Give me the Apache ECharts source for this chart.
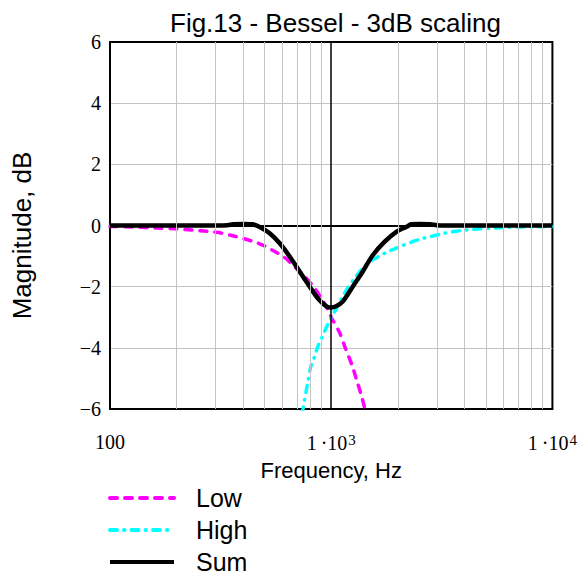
<!DOCTYPE html>
<html>
<head>
<meta charset="utf-8">
<style>
html,body{margin:0;padding:0;background:#fff;}
#chart{width:580px;height:578px;}
</style>
<script src="https://cdn.jsdelivr.net/npm/echarts@6/dist/echarts.min.js"></script>
</head>
<body>
<div id="chart"></div>
<script>
// ---- data ----
var titleText = 'Fig.13 - Bessel - 3dB scaling';
var xTitle = 'Frequency, Hz';
var yTitle = 'Magnitude, dB';
var seriesNames = ['Low', 'High', 'Sum'];

var lowFreq = [100,130,160,196,234,274,314,366,438,491,546,617,684,759,826,888,950,1000,1091,1151,1239,1303,1374,1420,1440];
var lowDb   = [-0.03,-0.05,-0.08,-0.11,-0.15,-0.19,-0.24,-0.35,-0.51,-0.64,-0.82,-1.05,-1.35,-1.67,-1.97,-2.3,-2.65,-3.0,-3.5,-3.95,-4.55,-5.05,-5.6,-6.0,-6.15];

var highFreq = [735,745,780,810,840,870,916,955,1000,1059,1151,1276,1462,1656,1800,2041,2513,2788,3162,3496,3802,4305,4677,5200,5890,7000,10000];
var highDb   = [-6.15,-6.0,-5.2,-4.6,-4.3,-3.95,-3.6,-3.3,-3.0,-2.7,-2.2,-1.72,-1.23,-1.0,-0.86,-0.69,-0.45,-0.37,-0.27,-0.21,-0.17,-0.13,-0.11,-0.09,-0.07,-0.05,-0.03];

var sumFreq = [100,200,300,340,360,400,440,475,527,585,650,721,800,869,955,1000,1047,1127,1250,1387,1538,1745,1977,2193,2300,2500,2800,3000,3200,5000,10000];
var sumDb   = [0,0,0,0.01,0.04,0.05,0.04,-0.05,-0.25,-0.58,-1.02,-1.51,-2.0,-2.38,-2.65,-2.68,-2.65,-2.49,-2.0,-1.51,-0.98,-0.53,-0.2,-0.04,0.04,0.05,0.04,0.01,0,0,0];

var minorGridFreq = [200,300,400,500,600,700,800,900,2000,3000,4000,5000,6000,7000,8000,9000];
var markerFreq = [1000];
var xMin = 100, xMax = 10000;
var yMin = -6, yMax = 6, yStep = 2;

function pairs(xs, ys){ return xs.map(function(x,i){ return [x, ys[i]]; }); }

var chart = echarts.init(document.getElementById('chart'), null, {renderer:'svg', width:580, height:578});

var minorLines = minorGridFreq.map(function(f){ return {xAxis: f, lineStyle:{color:'#c4c4c4', width:1, type:'solid'}}; });
var markLines = markerFreq.map(function(f){ return {xAxis: f, lineStyle:{color:'#000', width:1.5, type:'solid'}}; });

var option = {
  animation: false,
  backgroundColor: '#fff',
  title: {
    text: titleText,
    left: 165, top: 5,
    textStyle: {fontFamily:'Liberation Sans, Arial, sans-serif', fontSize:26, fontWeight:'normal', color:'#000'}
  },
  grid: {left:110, right:27, top:42, bottom:169, show:true, borderColor:'#000', borderWidth:2, backgroundColor:'transparent', containLabel:false},
  legend: {
    orient:'vertical', left:108, top:484, padding:0, height:94,
    itemWidth:64, itemHeight:14, itemGap:4,
    data: seriesNames,
    itemStyle:{color:'transparent', borderColor:'transparent', borderWidth:0},
    lineStyle:{width:4},
    textStyle:{fontFamily:'Liberation Sans, Arial, sans-serif', fontSize:25, color:'#000', lineHeight:22, padding:[6,0,0,17]}
  },
  xAxis: {
    type:'log', logBase:10, min:xMin, max:xMax,
    name: xTitle, nameLocation:'middle', nameGap:50, nameMoveOverlap:false,
    nameTextStyle:{fontFamily:'Liberation Sans, Arial, sans-serif', fontSize:22, color:'#000'},
    axisLine:{show:true, lineStyle:{color:'#000', width:2}},
    axisTick:{show:false},
    splitLine:{show:false},
    axisLabel:{
      margin:23, color:'#000', fontFamily:'Liberation Serif, Times New Roman, serif', fontSize:20,
      formatter:function(v){
        if (Math.abs(v-100) < 1e-6) return '100';
        var e = Math.round(Math.log(v)/Math.LN10);
        return '{b|1\u2009·10}{sup|' + e + '}';
      },
      rich:{
        b:{fontFamily:'Liberation Serif, Times New Roman, serif', fontSize:20, color:'#000', verticalAlign:'bottom'},
        sup:{fontFamily:'Liberation Serif, Times New Roman, serif', fontSize:15, color:'#000', verticalAlign:'top', padding:[0,0,6,1]}
      }
    }
  },
  yAxis: {
    type:'value', min:yMin, max:yMax, interval:yStep,
    name: yTitle, nameLocation:'middle', nameGap:75, nameMoveOverlap:false,
    nameTextStyle:{fontFamily:'Liberation Sans, Arial, sans-serif', fontSize:26, color:'#000', padding:[0,20,0,0]},
    axisLine:{show:true, lineStyle:{color:'#000', width:2}},
    axisTick:{show:false},
    splitLine:{show:true, showMinLine:false, showMaxLine:false, lineStyle:{color:'#c4c4c4', width:1}},
    axisLabel:{
      margin:9, color:'#000', fontFamily:'Liberation Serif, Times New Roman, serif', fontSize:20, padding:[8,0,0,0],
      formatter:function(v){ return v < 0 ? '\u2212' + Math.abs(v) : String(v); }
    }
  },
  series: [
    {
      name:'Low', type:'line', data:pairs(lowFreq, lowDb), showSymbol:false, symbol:'none', smooth:0.3, clip:true,
      lineStyle:{color:'#ff00ff', width:3.5, type:[7,8], cap:'round'},
      itemStyle:{color:'#ff00ff'},
      markLine:{silent:true, symbol:['none','none'], label:{show:false}, animation:false, data: minorLines.concat(markLines)},
      z:2
    },
    {
      name:'High', type:'line', data:pairs(highFreq, highDb), showSymbol:false, symbol:'none', smooth:0.3, clip:true,
      lineStyle:{color:'#00ffff', width:3.5, type:[7,7,0.5,7], cap:'round'},
      itemStyle:{color:'#00ffff'},
      z:3
    },
    {
      name:'Sum', type:'line', data:pairs(sumFreq, sumDb), showSymbol:false, symbol:'none', smooth:0.3, clip:true,
      lineStyle:{color:'#000', width:4.5, type:'solid'},
      itemStyle:{color:'#000'},
      z:4
    }
  ]
};
chart.setOption(option);
</script>
</body>
</html>
